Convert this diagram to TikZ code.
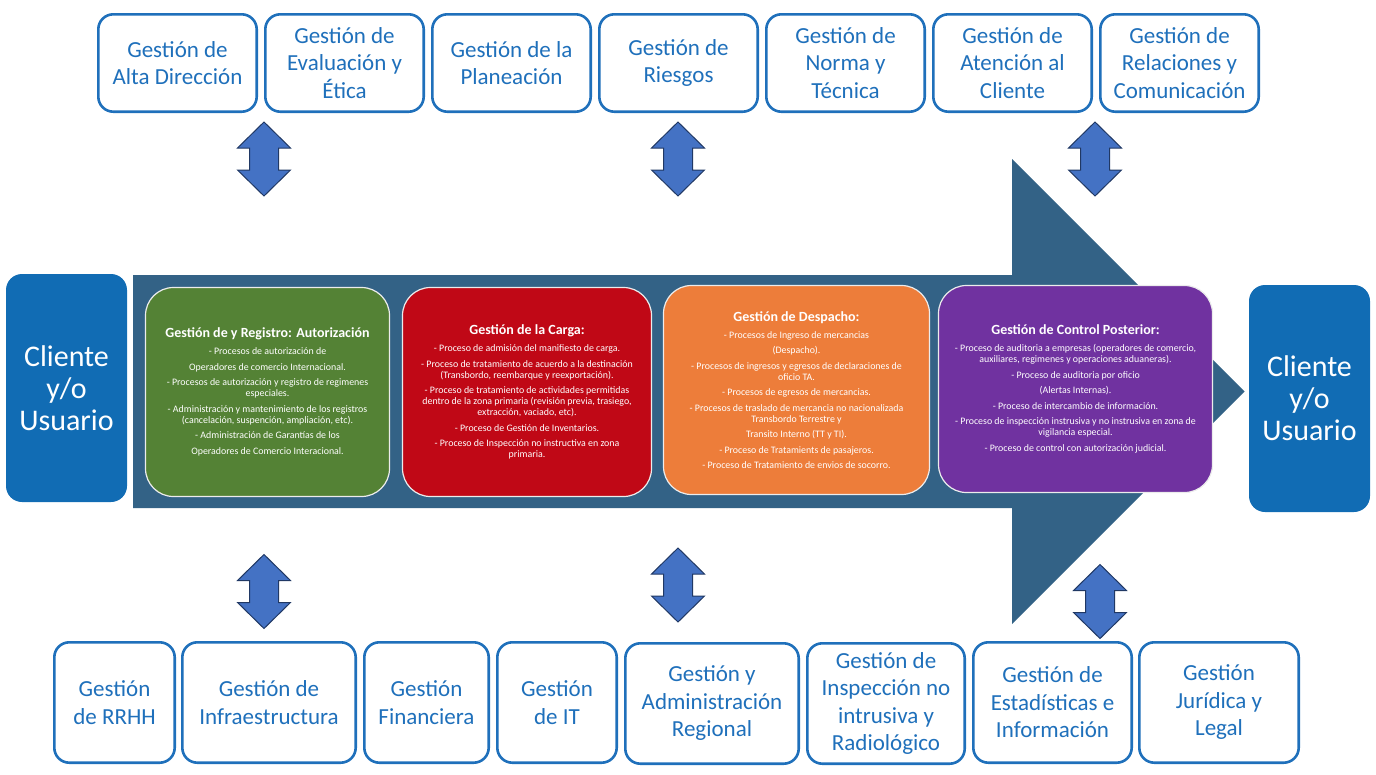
\documentclass[tikz,border=0pt]{standalone}
\usepackage{fontspec}
\setmainfont{Carlito}
\usepackage{tikz}

\definecolor{azulgestion}{RGB}{31,112,187}
\definecolor{azulcliente}{RGB}{17,108,180}
\definecolor{azulflecha}{RGB}{51,98,134}
\definecolor{azuldoble}{RGB}{68,114,196}
\definecolor{bordedoble}{RGB}{32,56,100}
\definecolor{verdeproc}{RGB}{84,130,53}
\definecolor{rojoproc}{RGB}{192,8,22}
\definecolor{naranjaproc}{RGB}{237,125,58}
\definecolor{moradoproc}{RGB}{112,50,160}

\newcommand{\titproc}[1]{{\fontsize{14}{15}\selectfont\bfseries #1}}

\tikzset{
	gestion/.style={draw=azulgestion, line width=2.6pt, rounded corners=15pt, fill=white,
		text=azulgestion, align=center, font=\fontsize{23}{27.5}\selectfont, inner sep=2pt},
	cliente/.style={fill=azulcliente, rounded corners=16pt, text=white, align=center,
		font=\fontsize{30}{32}\selectfont, inner sep=0pt},
	proceso/.style={draw=white!85!gray, line width=1.2pt, rounded corners=28pt, text=white,
		align=center, font=\fontsize{9.9}{11}\selectfont, inner sep=0pt},
	dobleflecha/.pic={
		\draw[fill=azuldoble, draw=bordedoble, line width=1pt]
			(0,-37)--(26.5,-11)--(14.5,-11)--(14.5,11)--(26.5,11)--(0,37)
			--(-26.5,11)--(-14.5,11)--(-14.5,-11)--(-26.5,-11)--cycle;
	}
}

\begin{document}
\begin{tikzpicture}[x=1pt, y=-1pt]

	\useasboundingbox (0,0) rectangle (1376,774);

	% flecha grande
	\fill[azulflecha] (133,275)--(1012,275)--(1012,159)--(1244.5,391.5)--(1012,624)--(1012,508)--(133,508)--cycle;

	\node[cliente, minimum width=121pt, minimum height=228pt] (clienteA) at (66.5,388) {Cliente\\y/o\\Usuario};
	\node[cliente, minimum width=121pt, minimum height=227pt] (clienteB) at (1309.5,398.5) {Cliente\\y/o\\Usuario};

	% procesos
	\node[proceso, fill=verdeproc, minimum width=244pt, minimum height=209pt] (registro) at (267.5,392)
		{\titproc{Gestión de y Registro: Autorización}\\[6pt]
		- Procesos de autorización de\\[4.5pt]
		Operadores de comercio Internacional.\\[4.5pt]
		- Procesos de autorización y registro de regimenes\\
		especiales.\\[4.5pt]
		- Administración y mantenimiento de los registros\\
		(cancelación, suspención, ampliación, etc).\\[4.5pt]
		- Administración de Garantías de los\\[4.5pt]
		Operadores de Comercio Interacional.};
	\node[proceso, fill=rojoproc, minimum width=249pt, minimum height=209pt] (carga) at (527,392)
		{\titproc{Gestión de la Carga:}\\[6pt]
		- Proceso de admisión del manifiesto de carga.\\[4.5pt]
		- Proceso de tratamiento de acuerdo a la destinación\\
		(Transbordo, reembarque y reexportación).\\[4.5pt]
		- Proceso de tratamiento de actividades permitidas\\
		dentro de la zona primaria (revisión previa, trasiego,\\
		extracción, vaciado, etc).\\[4.5pt]
		- Proceso de Gestión de Inventarios.\\[4.5pt]
		- Proceso de Inspección no instructiva en zona\\
		primaria.};
	\node[proceso, fill=naranjaproc, minimum width=266pt, minimum height=209pt] (despacho) at (796.5,390)
		{\titproc{Gestión de Despacho:}\\[6pt]
		- Procesos de Ingreso de mercancias\\[4.5pt]
		(Despacho).\\[4.5pt]
		- Procesos de ingresos y egresos de declaraciones de\\
		oficio TA.\\[4.5pt]
		- Procesos de egresos de mercancias.\\[4.5pt]
		- Procesos de traslado de mercancia no nacionalizada\\
		Transbordo Terrestre y\\[4.5pt]
		Transito Interno (TT y TI).\\[4.5pt]
		- Proceso de Tratamients de pasajeros.\\[4.5pt]
		- Proceso de Tratamiento de envios de socorro.};
	\node[proceso, fill=moradoproc, minimum width=274pt, minimum height=207pt] (control) at (1075.5,389)
		{\titproc{Gestión de Control Posterior:}\\[6pt]
		- Proceso de auditoria a empresas (operadores de comercio,\\
		auxiliares, regimenes y operaciones aduaneras).\\[4.5pt]
		- Proceso de auditoria por oficio\\[4.5pt]
		(Alertas Internas).\\[4.5pt]
		- Proceso de intercambio de información.\\[4.5pt]
		- Proceso de inspección instrusiva y no instrusiva en zona de\\
		vigilancia especial.\\[4.5pt]
		- Proceso de control con autorización judicial.};

	% gestiones de arriba
	\node[gestion, minimum width=158.4pt, minimum height=97.4pt] (altadir) at (177.5,63) {Gestión de\\Alta Dirección};
	\node[gestion, minimum width=158.4pt, minimum height=97.4pt] (evaluacion) at (344.5,63) {Gestión de\\Evaluación y\\Ética};
	\node[gestion, minimum width=158.4pt, minimum height=97.4pt] (planeacion) at (511.5,63) {Gestión de la\\Planeación};
	\node[gestion, minimum width=158.4pt, minimum height=97.4pt] (riesgos) at (678.5,63) {Gestión de\\Riesgos};
	\node[gestion, minimum width=158.4pt, minimum height=97.4pt] (norma) at (845.5,63) {Gestión de\\Norma y\\Técnica};
	\node[gestion, minimum width=158.4pt, minimum height=97.4pt] (atencion) at (1012.5,63) {Gestión de\\Atención al\\Cliente};
	\node[gestion, minimum width=158.4pt, minimum height=97.4pt] (relaciones) at (1179.5,63) {Gestión de\\Relaciones y\\Comunicación};

	% gestiones de abajo
	\node[gestion, minimum width=120.4pt, minimum height=120.4pt] (rrhh) at (114.5,702.5) {Gestión\\de RRHH};
	\node[gestion, minimum width=173.4pt, minimum height=120.4pt] (infra) at (269,702.5) {Gestión de\\Infraestructura};
	\node[gestion, minimum width=124.4pt, minimum height=120.4pt] (financiera) at (426.5,702.5) {Gestión\\Financiera};
	\node[gestion, minimum width=119.4pt, minimum height=120.4pt] (it) at (557,702.5) {Gestión\\de IT};
	\node[gestion, minimum width=173.4pt, minimum height=120.4pt] (regional) at (712,703.5) {Gestión y\\Administración\\Regional};
	\node[gestion, minimum width=157.4pt, minimum height=120.4pt] (inspeccion) at (886,703.5) {Gestión de\\Inspección no\\intrusiva y\\Radiológico};
	\node[gestion, minimum width=158.4pt, minimum height=120.4pt] (estadisticas) at (1052.5,702.5) {Gestión de\\Estadísticas e\\Información};
	\node[gestion, minimum width=159.4pt, minimum height=120.4pt] (juridica) at (1219,702.5) {Gestión\\Jurídica y\\Legal};

	% flechas dobles
	\pic at (264,159) {dobleflecha};
	\pic at (678,159) {dobleflecha};
	\pic at (1095,159) {dobleflecha};
	\pic at (264,591.5) {dobleflecha};
	\pic at (678,585) {dobleflecha};
	\pic at (1100,601.5) {dobleflecha};

\end{tikzpicture}
\end{document}
